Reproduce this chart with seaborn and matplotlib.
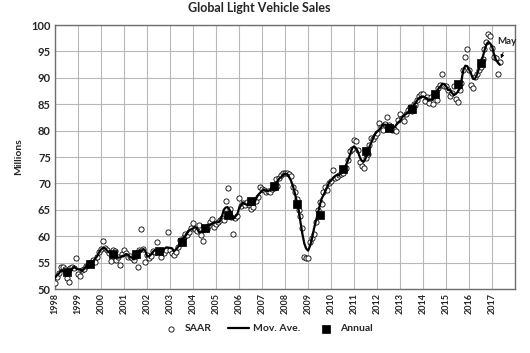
import numpy as np
import pandas as pd
import matplotlib
matplotlib.use("Agg")
import matplotlib.pyplot as plt
import seaborn as sns

title = "Global Light Vehicle Sales"
y_label = "Millions"
year_ticks = list(range(1998, 2018))
y_ticks = list(range(50, 101, 5))

# Monthly SAAR (millions), Jan..Dec of each year
saar_1998 = [51.1, 52.3, 53.0, 54.2, 54.2, 53.8, 52.1, 51.4, 54.0, 54.2, 54.0, 55.9]
saar_1999 = [52.8, 52.5, 53.6, 53.9, 54.3, 54.6, 54.9, 55.2, 55.5, 55.2, 56.0, 57.1]
saar_2000 = [57.6, 59.1, 57.8, 57.4, 56.9, 55.4, 57.4, 57.2, 55.5, 56.0, 54.5, 56.6]
saar_2001 = [57.5, 56.8, 56.1, 56.3, 55.8, 55.5, 56.3, 54.2, 57.4, 61.4, 57.6, 55.2]
saar_2002 = [56.4, 55.8, 56.3, 57.2, 57.0, 59.0, 57.3, 56.1, 57.0, 56.8, 57.4, 60.9]
saar_2003 = [57.4, 56.8, 56.4, 57.1, 58.0, 59.3, 58.7, 59.9, 60.5, 60.2, 60.9, 61.6]
saar_2004 = [62.6, 61.4, 61.0, 62.2, 60.2, 59.2, 61.5, 61.3, 62.0, 62.8, 63.3, 61.8]
saar_2005 = [62.3, 62.8, 63.0, 63.4, 63.0, 66.6, 69.1, 65.2, 63.7, 60.5, 63.4, 63.8]
saar_2006 = [67.3, 65.8, 66.3, 66.0, 66.5, 66.0, 65.2, 65.6, 66.9, 66.6, 67.5, 69.4]
saar_2007 = [69.0, 68.8, 68.4, 68.6, 68.3, 68.9, 69.2, 70.8, 69.6, 71.0, 71.7, 71.9]
saar_2008 = [72.0, 71.9, 71.8, 71.5, 69.3, 68.4, 67.0, 65.0, 63.8, 61.5, 56.0, 55.9]
saar_2009 = [55.9, 59.0, 59.6, 60.5, 62.7, 65.0, 66.5, 66.2, 68.4, 69.4, 68.7, 70.0]
saar_2010 = [70.5, 72.5, 71.0, 71.3, 71.6, 71.8, 72.0, 72.8, 73.0, 74.5, 76.1, 76.5]
saar_2011 = [78.2, 78.1, 76.3, 74.1, 73.3, 72.9, 74.8, 75.5, 77.3, 78.7, 78.5, 79.0]
saar_2012 = [79.5, 81.4, 80.7, 80.2, 81.2, 82.5, 81.0, 80.7, 80.1, 80.4, 79.9, 82.0]
saar_2013 = [83.2, 82.4, 81.8, 83.2, 83.9, 84.4, 83.8, 85.0, 84.8, 85.8, 86.5, 87.0]
saar_2014 = [87.0, 85.7, 86.3, 85.3, 86.3, 85.0, 86.8, 85.8, 88.1, 88.6, 90.8, 88.5]
saar_2015 = [88.5, 87.7, 86.6, 87.2, 88.4, 86.0, 85.5, 87.7, 89.0, 91.5, 94.0, 95.5]
saar_2016 = [91.5, 88.6, 88.0, 90.2, 90.8, 91.5, 92.1, 93.5, 95.4, 96.7, 98.3, 97.9]
saar_2017 = [95.6, 94.0, 93.8, 90.7, 93.0]

annual_years = list(range(1998, 2017))
annual_values = [53.3, 54.7, 56.6, 56.6, 57.2, 59.0, 61.6, 64.0, 66.6, 69.5,
                 66.1, 64.0, 72.7, 76.2, 80.6, 84.2, 87.0, 88.8, 92.9]

saar = (saar_1998 + saar_1999 + saar_2000 + saar_2001 + saar_2002 + saar_2003 +
        saar_2004 + saar_2005 + saar_2006 + saar_2007 + saar_2008 + saar_2009 +
        saar_2010 + saar_2011 + saar_2012 + saar_2013 + saar_2014 + saar_2015 +
        saar_2016 + saar_2017)

df = pd.DataFrame({"t": 1998 + np.arange(len(saar)) / 12.0, "SAAR": saar})
df["MA"] = df["SAAR"].rolling(5, center=True, min_periods=3).mean()
ann = pd.DataFrame({"t": np.array(annual_years) + 0.5, "Annual": annual_values})

sns.set_theme(style="white")
plt.rcParams["font.family"] = ["Lato", "DejaVu Sans"]

fig = plt.figure(figsize=(5.3, 3.53), dpi=100)
ax = fig.add_axes([0.104, 0.181, 0.868, 0.748])

sns.scatterplot(data=df, x="t", y="SAAR", ax=ax, marker="o", s=14,
                facecolor="white", edgecolor="black", linewidth=0.6,
                label="SAAR", zorder=3)
sns.lineplot(data=df, x="t", y="MA", ax=ax, color="black", linewidth=1.6,
             label="Mov. Ave.", zorder=4)
sns.scatterplot(data=ann, x="t", y="Annual", ax=ax, marker="s", s=28,
                color="black", edgecolor="black", linewidth=0.5,
                label="Annual", zorder=5)

ax.set_xlim(1998, 2018)
ax.set_ylim(50, 100)
ax.set_xticks(year_ticks + [2018])
ax.set_xticklabels([str(y) for y in year_ticks] + [""], rotation=90,
                   fontsize=6.5, fontweight="bold")
ax.set_yticks(y_ticks)
ax.set_yticklabels([str(v) for v in y_ticks], fontsize=8, fontweight="bold")
ax.tick_params(axis="both", length=0, pad=3)
ax.grid(True, color="#b8b8b8", linewidth=0.8)
ax.set_axisbelow(True)
for sp in ax.spines.values():
    sp.set_color("#6e6e6e")
    sp.set_linewidth(1.0)

ax.set_xlabel("")
ax.set_ylabel(y_label, fontsize=7.5, fontweight="bold", labelpad=6)
fig.suptitle(title, x=0.49, y=0.995, fontsize=9, fontweight="bold")

last_t = df["t"].iloc[-1]
last_v = df["SAAR"].iloc[-1]
ax.annotate("May", xy=(last_t + 0.05, last_v + 0.7), xytext=(2017.65, 96.8),
            fontsize=7, fontweight="bold", ha="center", va="center",
            arrowprops=dict(arrowstyle="-|>", color="black", lw=0.6,
                            mutation_scale=5, shrinkA=2, shrinkB=0))

leg = ax.legend(loc="center", bbox_to_anchor=(0.46, -0.15), ncol=3,
                frameon=False, fontsize=7.5, handlelength=2.0,
                columnspacing=1.5, handletextpad=0.4)
for txt in leg.get_texts():
    txt.set_fontweight("bold")

fig.savefig("out.png", dpi=100)
